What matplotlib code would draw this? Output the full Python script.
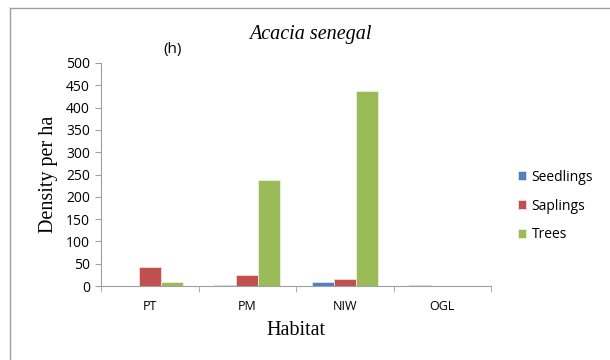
import matplotlib.pyplot as plt
import numpy as np

habitats = ['PT', 'PM', 'NIW', 'OGL']
seedlings = [0, 2, 10, 2]
saplings = [42, 24, 15, 0]
trees = [8, 238, 438, 0]
yticks = list(range(0, 501, 50))

fig = plt.figure(figsize=(6.1, 3.6), dpi=100)
ax = fig.add_axes([101/610, 1-286/360, 390/610, 223/360])

x = np.arange(len(habitats))
w = 0.225
ax.bar(x - w, seedlings, w, color='#4f81bd', edgecolor='#dce6f2', linewidth=0.6, label='Seedlings')
ax.bar(x, saplings, w, color='#c0504d', edgecolor='#f2dcdb', linewidth=0.6, label='Saplings')
ax.bar(x + w, trees, w, color='#9bbb59', edgecolor='#ebf1de', linewidth=0.6, label='Trees')

ax.set_xlim(-0.5, 3.5)
ax.set_ylim(0, 500)
ax.set_yticks(yticks)
ax.set_xticks(x)
ax.set_xticklabels(habitats, family='Open Sans', fontsize=9)
ax.set_xticks(np.arange(-0.5, 4, 1), minor=True)
ax.tick_params(axis='x', which='major', length=0, pad=10)
ax.tick_params(axis='x', which='minor', length=4, color='#a0a0a0', direction='out')
ax.tick_params(axis='y', length=4, color='#a0a0a0', labelsize=10, pad=4)
for lab in ax.get_yticklabels():
    lab.set_family('Open Sans')

for s in ['top', 'right']:
    ax.spines[s].set_visible(False)
for s in ['left', 'bottom']:
    ax.spines[s].set_color('#a0a0a0')

ax.set_xlabel('Habitat', family='Liberation Serif', fontsize=14.5, labelpad=6)
ax.set_ylabel('Density per ha', family='Liberation Serif', fontsize=14.5, labelpad=6)
fig.text(310/610, 1-34/360, 'Acacia senegal', family='Liberation Serif', style='italic',
         fontsize=14.5, ha='center', va='center')
fig.text(173/610, 1-49/360, '(h)', family='Open Sans', fontsize=11, weight='medium',
         ha='center', va='center')

ax.legend(loc='center left', bbox_to_anchor=(505/610, 1-206/360), bbox_transform=fig.transFigure,
          frameon=False, prop={'family': 'Open Sans', 'size': 10}, handlelength=0.6,
          handleheight=0.6, handletextpad=0.4, labelspacing=1.0)

# outer chart frame
fig.add_artist(plt.Line2D([10/610, 10/610], [0, 1-8/360], color='#a0a0a0', lw=1))
fig.add_artist(plt.Line2D([10/610, 1], [1-8/360, 1-8/360], color='#a0a0a0', lw=1))

fig.savefig('out.png', dpi=100)
